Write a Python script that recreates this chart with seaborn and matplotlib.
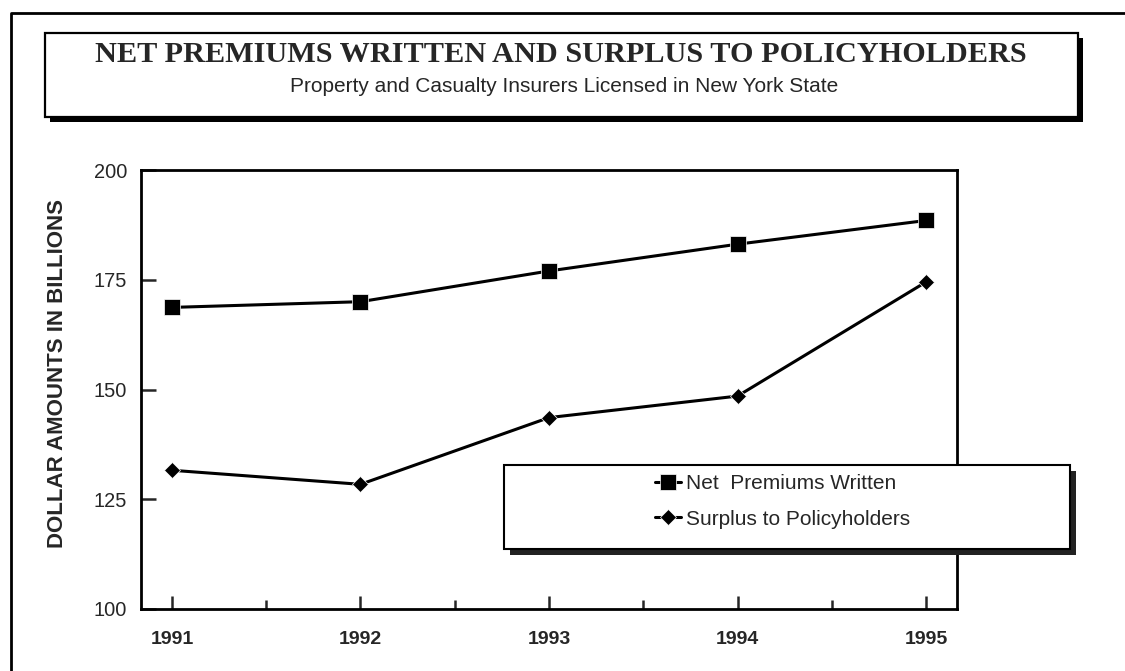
import matplotlib
matplotlib.use("Agg")
import matplotlib.pyplot as plt
from matplotlib.patches import Rectangle
from matplotlib.lines import Line2D
import seaborn as sns

# Data (billions of dollars)
years = [1991, 1992, 1993, 1994, 1995]
net_premiums = [168.7, 170.0, 177.0, 183.1, 188.5]
surplus = [131.6, 128.4, 143.6, 148.5, 174.5]
y_ticks = [100, 125, 150, 175, 200]

title = "NET PREMIUMS WRITTEN AND SURPLUS TO POLICYHOLDERS"
subtitle = "Property and Casualty Insurers Licensed in New York State"
ylabel = "DOLLAR AMOUNTS IN BILLIONS"
label_net = "Net  Premiums Written"
label_surplus = "Surplus to Policyholders"

sns.set_style("white")
plt.rcParams["font.family"] = ["Liberation Sans", "DejaVu Sans"]

W, H = 1125, 671
fig = plt.figure(figsize=(W / 100, H / 100), dpi=100)
fig.patch.set_facecolor("white")


def fx(x):
    return x / W


def fy(y):
    return 1 - y / H


# outer page frame (left and top edges)
fig.add_artist(Line2D([fx(11), fx(11), 1.0], [0.0, fy(13), fy(13)],
                      color="black", lw=2.0, transform=fig.transFigure))

# title box with drop shadow
fig.add_artist(Rectangle((fx(50), fy(122)), fx(1078) - fx(45), (117 - 33) / H,
                         transform=fig.transFigure, facecolor="black",
                         edgecolor="none", zorder=1))
fig.add_artist(Rectangle((fx(45), fy(117)), fx(1078) - fx(45), (117 - 33) / H,
                         transform=fig.transFigure, facecolor="white",
                         edgecolor="black", lw=1.6, zorder=2))
fig.text(fx(561), fy(54), title, ha="center", va="center",
         family=["Liberation Serif", "DejaVu Serif"], fontweight="bold",
         fontsize=21.8, zorder=3)
fig.text(fx(564), fy(86), subtitle, ha="center", va="center",
         fontsize=15, zorder=3)

# plot area
ax = fig.add_axes([fx(141), fy(609), (957 - 141) / W, (609 - 170) / H])
sns.lineplot(x=years, y=net_premiums, ax=ax, color="black", lw=2.2,
             marker="s", markersize=12, markeredgewidth=0.5,
             label=label_net)
sns.lineplot(x=years, y=surplus, ax=ax, color="black", lw=2.2,
             marker="D", markersize=8.5, markeredgewidth=0.5,
             label=label_surplus)

handles, labels = ax.get_legend_handles_labels()
ax.get_legend().remove()

ax.set_xlim(1990.836, 1995.164)
ax.set_ylim(100, 200)
ax.set_xticks(years)
ax.set_xticks([1991.5, 1992.5, 1993.5, 1994.5], minor=True)
ax.set_xticklabels([str(y) for y in years], fontsize=14, fontweight="bold")
ax.set_yticks(y_ticks)
ax.set_yticklabels([str(v) for v in y_ticks], fontsize=14.4)
ax.tick_params(axis="x", which="major", direction="in", length=9.5,
               width=1.8, pad=16, bottom=True, top=False)
ax.tick_params(axis="x", which="minor", direction="in", length=6.5,
               width=1.8, bottom=True, top=False)
ax.tick_params(axis="y", which="major", direction="in", length=11,
               width=1.8, pad=10, left=True, right=False)
for side in ["left", "right", "top", "bottom"]:
    ax.spines[side].set_visible(True)
    ax.spines[side].set_color("black")
    ax.spines[side].set_linewidth(2.0)
ax.set_xlabel("")
ax.set_ylabel("")

fig.text(fx(58), fy(373), ylabel, rotation=90, ha="center", va="center",
         fontsize=16, fontweight="bold")

# legend box with drop shadow
fig.add_artist(Rectangle((fx(510), fy(555)), fx(1070) - fx(504), (549 - 465) / H,
                         transform=fig.transFigure, facecolor="#222222",
                         edgecolor="none", zorder=4))
fig.add_artist(Rectangle((fx(504), fy(549)), fx(1070) - fx(504), (549 - 465) / H,
                         transform=fig.transFigure, facecolor="white",
                         edgecolor="black", lw=1.5, zorder=5))
leg = fig.legend(handles, labels, loc="upper left",
                 bbox_to_anchor=(fx(655), fy(474)), frameon=False,
                 fontsize=15, handlelength=1.25, handletextpad=0.25,
                 labelspacing=0.8, borderpad=0, borderaxespad=0)
leg.set_zorder(6)

fig.savefig("out.png", dpi=100, facecolor="white")
